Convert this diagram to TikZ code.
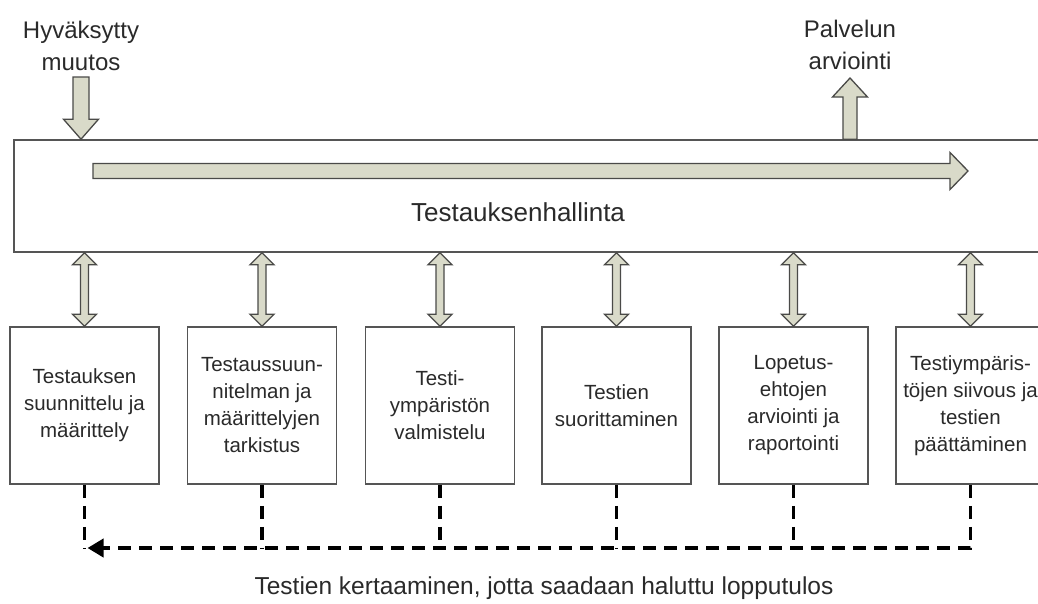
\documentclass[tikz,border=0pt]{standalone}
\usepackage{fontspec}
\setmainfont{Liberation Sans}
\usetikzlibrary{arrows.meta}
\definecolor{arrowfill}{HTML}{D9DAC9}
\definecolor{arrowedge}{HTML}{4A4A48}
\definecolor{boxgray}{HTML}{555555}
\definecolor{txt}{HTML}{2A2A2A}
\begin{document}
\begin{tikzpicture}[x=1pt,y=-1pt,
  box/.style={draw=boxgray, line width=1.6pt, fill=white, minimum width=149pt,
    minimum height=157pt, inner sep=0pt},
  steptext/.style={font=\fontsize{20.5}{27}\selectfont, align=center, text=txt},
  toplabel/.style={font=\fontsize{24}{32}\selectfont, align=center, text=txt},
  blockarrow/.style={draw=arrowedge, fill=arrowfill, line width=1.3pt, line join=miter},
  loopline/.style={draw=black, line width=3.8pt, dash pattern=on 13pt off 8pt},
]
\useasboundingbox (0,0) rectangle (1038,603);
\fill[white] (0,0) rectangle (1038,603);
\clip (0,0) rectangle (1038,603);

% management frame and its label
\node[draw=boxgray, line width=1.6pt, minimum width=1031pt, minimum height=112pt,
  inner sep=0pt] (mgmt) at (529.5,196) {};
\node[font=\fontsize{26}{30}\selectfont, text=txt] (mgmtlabel) at (518,212) {Testauksenhallinta};

% flow arrow inside the frame
\coordinate (flowStart) at (93,171);
\coordinate (flowEnd) at (968,171);
\draw[blockarrow] ([shift={(0,-7.5)}]flowStart) -- ([shift={(-18,-7.5)}]flowEnd)
  -- ([shift={(-18,-18.5)}]flowEnd) -- (flowEnd) -- ([shift={(-18,18.5)}]flowEnd)
  -- ([shift={(-18,7.5)}]flowEnd) -- ([shift={(0,7.5)}]flowStart) -- cycle;

% input and output
\node[toplabel] (inlabel) at (81,46) {Hyväksytty\\muutos};
\node[toplabel] (outlabel) at (850,45) {Palvelun\\arviointi};
\coordinate (inTail) at (81,77);
\coordinate (inTip) at (inTail |- mgmt.north);
\draw[blockarrow] ([shift={(-8,0)}]inTail) -- ([shift={(-8,-20)}]inTip)
  -- ([shift={(-17.5,-20)}]inTip) -- (inTip) -- ([shift={(17.5,-20)}]inTip)
  -- ([shift={(8,-20)}]inTip) -- ([shift={(8,0)}]inTail) -- cycle;
\coordinate (outTip) at (850,78);
\coordinate (outTail) at (outTip |- mgmt.north);
\draw[blockarrow] ([shift={(-7,0)}]outTail) -- ([shift={(-7,19)}]outTip)
  -- ([shift={(-17.5,19)}]outTip) -- (outTip) -- ([shift={(17.5,19)}]outTip)
  -- ([shift={(7,19)}]outTip) -- ([shift={(7,0)}]outTail) -- cycle;

% process steps
\node[box, steptext] (b1) at (84.5,405.5) {Testauksen\\suunnittelu ja\\määrittely};
\node[box, steptext] (b2) at (262,405.5) {Testaussuun-\\nitelman ja\\määrittelyjen\\tarkistus};
\node[box, steptext] (b3) at (440,405.5) {Testi-\\ympäristön\\valmistelu};
\node[box, steptext] (b4) at (616.5,405.5) {Testien\\suorittaminen};
\node[box, steptext] (b5) at (793.5,405.5) {Lopetus-\\ehtojen\\arviointi ja\\raportointi};
\node[box, steptext] (b6) at (970.5,405.5) {Testiympäris-\\töjen siivous ja\\testien\\päättäminen};

% two-way links between the frame and each step
\foreach \i in {1,...,6}{
  \coordinate (up\i) at (b\i.north |- mgmt.south);
  \coordinate (dn\i) at (b\i.north);
  \draw[blockarrow] (up\i) -- ([shift={(-12,12)}]up\i) -- ([shift={(-4,12)}]up\i)
    -- ([shift={(-4,-12)}]dn\i) -- ([shift={(-12,-12)}]dn\i) -- (dn\i)
    -- ([shift={(12,-12)}]dn\i) -- ([shift={(4,-12)}]dn\i)
    -- ([shift={(4,12)}]up\i) -- ([shift={(12,12)}]up\i) -- cycle;
}

% iteration loop back to the first step
\coordinate (retLevel) at (0,548);
\coordinate (ret1) at (b1.south |- retLevel);
\draw[loopline] (b1.south) -- (ret1);
\foreach \i in {2,...,5}{
  \draw[loopline] (b\i.south) -- (b\i.south |- retLevel);
}
\draw[loopline, -{Triangle[length=16pt,width=18pt]}] (b6.south) |- ([xshift=3pt]ret1);
\node[font=\fontsize{24.5}{30}\selectfont, text=txt] (looplabel) at (544,588)
  {Testien kertaaminen, jotta saadaan haluttu lopputulos};
\end{tikzpicture}
\end{document}
